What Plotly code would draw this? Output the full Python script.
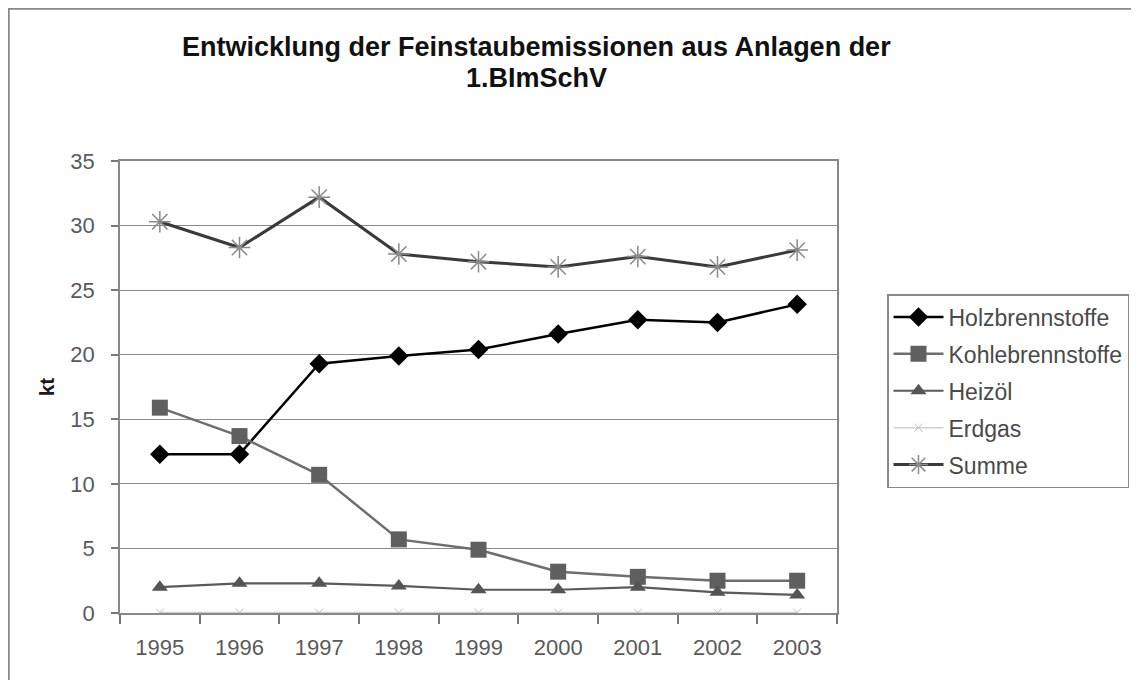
import plotly.graph_objects as go

years = ["1995", "1996", "1997", "1998", "1999", "2000", "2001", "2002", "2003"]
holz = [12.3, 12.3, 19.3, 19.9, 20.4, 21.6, 22.7, 22.5, 23.9]
kohle = [15.9, 13.7, 10.7, 5.7, 4.9, 3.2, 2.8, 2.5, 2.5]
heizoel = [2.0, 2.3, 2.3, 2.1, 1.8, 1.8, 2.0, 1.6, 1.4]
erdgas = [0.03, 0.03, 0.03, 0.03, 0.03, 0.03, 0.03, 0.03, 0.03]
summe = [30.3, 28.3, 32.2, 27.8, 27.2, 26.8, 27.6, 26.8, 28.1]
y_ticks = [0, 5, 10, 15, 20, 25, 30, 35]

# page offset (browser default body margin)
O = 8
W, H = 1139 - O, 680 - O
# plot area in page pixels
L, R, T, B = 120, 837, 161, 613

def px(x):
    return (x - L) / (R - L)

def py(y):
    return (B - y) / (B - T)

fig = go.Figure()
fig.add_trace(go.Scatter(x=years, y=holz, name="Holzbrennstoffe", mode="lines+markers",
                         legendgroup="a",
                         line=dict(color="#000000", width=2.5),
                         marker=dict(symbol="diamond", size=15, color="#000000")))
fig.add_trace(go.Scatter(x=years, y=kohle, name="Kohlebrennstoffe", mode="lines+markers",
                         legendgroup="b",
                         line=dict(color="#6e6e6e", width=2.5),
                         marker=dict(symbol="square", size=16, color="#5f5f5f")))
fig.add_trace(go.Scatter(x=years, y=heizoel, name="Heizöl", mode="lines+markers",
                         legendgroup="c",
                         line=dict(color="#5a5a5a", width=2.2),
                         marker=dict(symbol="triangle-up", size=14, color="#555555")))
fig.add_trace(go.Scatter(x=years, y=erdgas, name="Erdgas", mode="lines+markers",
                         legendgroup="d",
                         line=dict(color="#d0d0d0", width=1.5),
                         marker=dict(symbol="x-thin-open", size=8, color="#c0c0c0",
                                     line=dict(width=1, color="#bcbcbc"))))
fig.add_trace(go.Scatter(x=years, y=summe, name="Summe", mode="lines+markers",
                         legendgroup="e",
                         line=dict(color="#3a3a3a", width=3),
                         marker=dict(symbol="asterisk-open", size=18, color="#8a8a8a",
                                     line=dict(width=1.5, color="#8a8a8a"))))

fig.update_layout(
    width=W, height=H,
    margin=dict(l=L - O, r=W - (R - O), t=T - O, b=H - (B - O), autoexpand=False),
    paper_bgcolor="white", plot_bgcolor="white",
    font=dict(family="Liberation Sans, Arial, sans-serif", color="#5a5a5a"),
    showlegend=True,
    legend=dict(x=px(887), y=py(294), xanchor="left", yanchor="top",
                bgcolor="white", bordercolor="#888888", borderwidth=1.5,
                font=dict(size=23, color="#4a4a4a"), tracegroupgap=4,
                itemwidth=50, traceorder="grouped"),
)
fig.update_xaxes(type="category", tickson="boundaries", ticks="outside", ticklen=9,
                 tickcolor="#777777", tickwidth=1.5, showline=True, linecolor="#888888",
                 linewidth=1.5, mirror=True, showgrid=False,
                 tickfont=dict(size=22, color="#5a5a5a"), ticklabelstandoff=14,
                 range=[-0.5, 8.5])
fig.update_yaxes(range=[0, 35], tickvals=y_ticks, ticks="outside", ticklen=7,
                 tickcolor="#777777", tickwidth=1.5, showline=True, linecolor="#888888",
                 linewidth=1.5, mirror=True, showgrid=True, gridcolor="#8a8a8a", gridwidth=1,
                 zeroline=False, tickfont=dict(size=22, color="#5a5a5a"), ticklabelstandoff=12,
                 title=dict(text="<b>kt</b>", font=dict(size=21, color="#1a1a1a"), standoff=10))

fig.add_annotation(text="<b>Entwicklung der Feinstaubemissionen aus Anlagen der</b>",
                   xref="paper", yref="paper", x=px(536), y=py(47), showarrow=False,
                   font=dict(size=27, color="#111111"), xanchor="center", yanchor="middle")
fig.add_annotation(text="<b>1.BImSchV</b>",
                   xref="paper", yref="paper", x=px(536), y=py(78), showarrow=False,
                   font=dict(size=27, color="#111111"), xanchor="center", yanchor="middle")

# outer chart frame
fig.add_shape(type="line", xref="paper", yref="paper", x0=px(8), x1=px(1145), y0=py(8.5), y1=py(8.5),
              line=dict(color="#888888", width=2.5))
fig.add_shape(type="line", xref="paper", yref="paper", x0=px(8.5), x1=px(8.5), y0=py(8), y1=py(690),
              line=dict(color="#888888", width=2.5))

fig.write_html("out.html")
